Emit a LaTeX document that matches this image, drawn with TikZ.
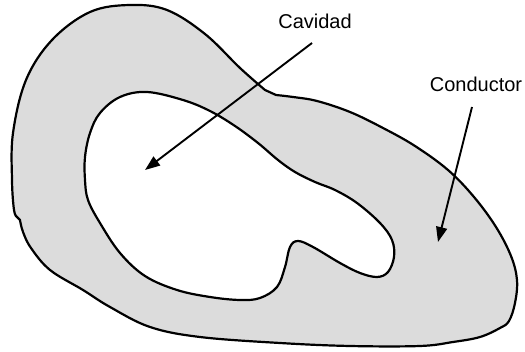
\documentclass[tikz,border=0pt]{standalone}
\usepackage{fontspec}
\setmainfont{Liberation Sans}
\usetikzlibrary{arrows.meta}
\definecolor{cond}{RGB}{220,220,220}
\tikzset{
  outline/.style={draw=black, line width=2.2pt, line join=round},
  label/.style={font=\fontsize{20}{23}\selectfont, inner sep=0pt},
  pointer/.style={draw=black, line width=1.9pt, -{Triangle[length=15pt,width=11pt]}}
}
\begin{document}
\begin{tikzpicture}[x=1pt,y=-1pt]
\useasboundingbox (0,0) rectangle (525,352);
% conductor (outer)
\path[outline, fill=cond]
  plot[smooth, tension=0.6] coordinates {(20,220) (23,232) (31,248) (50,270) (83,290) (110,307) (150,327) (200,337) (280,343) (350,346) (420,346) (453,342) (480,337) (500,328) (509,321) (515,303) (517,280) (511,256) (496,227) (474,197) (448,170) (415,146) (383,128) (350,112) (317,101) (293,97) (276,95)}
  -- plot[smooth, tension=0.6] coordinates {(265,90) (240,68) (205,34) (167,10) (130,5) (90,12) (52,40) (26,80) (13,133) (12,180) (14,210) (17,217)}
  -- cycle;
% cavity (inner)
\path[outline, fill=white]
  plot[smooth cycle, tension=0.6] coordinates {(147,92) (183,100) (210,111) (235,126) (258,143) (278,160) (295,172) (315,182) (335,190) (357,203) (380,223) (392,240) (394,257) (388,272) (377,277) (360,273) (340,263) (313,247) (298,241) (290,247) (285,267) (277,287) (260,298) (240,300) (210,297) (177,290) (145,276) (120,253) (100,223) (88,200) (85,180) (85,157) (90,133) (100,113) (120,97)};
% labels
\node[label] (cav) at (315,21) {Cavidad};
\node[label] (con) at (476,84) {Conductor};
\coordinate (cavs) at (312,43);
\coordinate (cave) at (145,170);
\coordinate (cons) at (472,107);
\coordinate (cone) at (438,242);
\draw[pointer] (cavs) -- (cave);
\draw[pointer] (cons) -- (cone);
\end{tikzpicture}
\end{document}
